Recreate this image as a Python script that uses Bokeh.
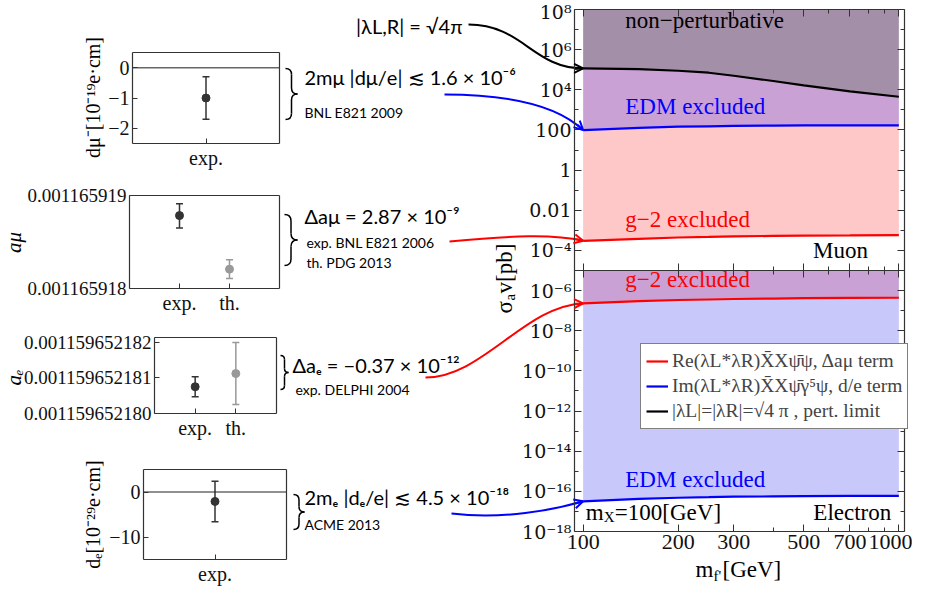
import math
from bokeh.plotting import figure
from bokeh.models import (Range1d, FixedTicker, LogAxis, LinearAxis, LogScale, LinearScale, Label, Arrow,
                          OpenHead, Whisker, TeeHead, ColumnDataSource, Legend, LegendItem,
                          PrintfTickFormatter)
from bokeh.embed import file_html
from bokeh.resources import INLINE

# ---------------- data ----------------
mf_gev = [100, 150, 200, 250, 300, 400, 500, 700, 1000]
muon_pert_limit = [1.17e5, 1.07e5, 8.9e4, 7.1e4, 5.0e4, 2.75e4, 1.66e4, 8.3e3, 4.5e3]
muon_edm_bound = [98, 126, 145, 152, 158, 166, 170, 170, 170]
muon_g2_bound = [3.0e-4, 3.8e-4, 4.4e-4, 4.7e-4, 5.0e-4, 5.3e-4, 5.5e-4, 5.6e-4, 5.8e-4]
el_g2_bound = [2.3e-7, 2.95e-7, 3.4e-7, 3.6e-7, 3.8e-7, 4.0e-7, 4.2e-7, 4.3e-7, 4.4e-7]
el_edm_bound = [3.2e-17, 4.2e-17, 4.8e-17, 5.1e-17, 5.4e-17, 5.6e-17, 5.75e-17, 5.9e-17, 6.0e-17]

x_major = [100, 200, 300, 500, 700, 1000]
x_major_labels = ["100", "200", "300", "500", "700", "1000"]
x_minor = [400, 600, 800, 900]
muon_y_major = [1e8, 1e6, 1e4, 1e2, 1, 1e-2, 1e-4]
muon_y_labels = ["10⁸", "10⁶", "10⁴", "100", "1", "0.01", "10⁻⁴"]
muon_y_minor = [1e7, 1e5, 1e3, 1e1, 1e-1, 1e-3, 1e-5]
el_y_major = [1e-6, 1e-8, 1e-10, 1e-12, 1e-14, 1e-16, 1e-18]
el_y_labels = ["10⁻⁶", "10⁻⁸", "10⁻¹⁰", "10⁻¹²", "10⁻¹⁴", "10⁻¹⁶", "10⁻¹⁸"]
el_y_minor = [1e-5, 1e-7, 1e-9, 1e-11, 1e-13, 1e-15, 1e-17]

dmu_cats = ["exp."]
dmu_val = [-1.0]
dmu_lo = [-1.7]
dmu_hi = [-0.3]
dmu_ticks = [0, -1, -2]
dmu_tick_labels = ["0", "−1", "−2"]

amu_cats = ["exp.", "th."]
amu_val = [0.001165918784, 0.001165918208]
amu_lo = [0.001165918650, 0.001165918108]
amu_hi = [0.001165918910, 0.001165918310]
amu_ticks = [0.001165918, 0.001165919]

ae_cats = ["exp.", "th."]
ae_val = [0.00115965218075, 0.00115965218112]
ae_lo = [0.00115965218047, 0.00115965218025]
ae_hi = [0.00115965218103, 0.00115965218199]
ae_ticks = [0.001159652180, 0.001159652181, 0.001159652182]

de_cats = ["exp."]
de_val = [-2.1]
de_lo = [-6.6]
de_hi = [2.4]
de_ticks = [0, -10]
de_tick_labels = ["0", "−10"]

SERIF = "Liberation Serif"
SUPSERIF = "DejaVu Serif"
SANS = "Lato"
PERT_FILL = "#A48FA8"
EDM_FILL = "#C9A1D5"
G2_FILL = "#FEC8C8"
E_FILL = "#C8C8FA"
EXP_COL = "#333333"
TH_COL = "#999999"
FRAME_COL = "#333333"

W, H = 912, 588
p = figure(width=W, height=H, x_range=Range1d(0, W), y_range=Range1d(H, 0), min_border=0,
           x_axis_location=None, y_axis_location=None, toolbar_location=None, tools="",
           output_backend="svg", background_fill_color="white", border_fill_color="white",
           outline_line_color=None)
p.grid.visible = False

# ---------------- panel geometry (pixel boxes: left, right, top, bottom) ----------------
panels = {
    "mu": dict(box=(574, 904, 9, 270), xlim=(93.9, 1042), ylim=(1e-5, 1e8), xlog=True, ylog=True),
    "el": dict(box=(574, 904, 270, 531), xlim=(93.9, 1042), ylim=(1e-18, 1e-5), xlog=True, ylog=True),
    "dmu": dict(box=(132, 279, 52, 143), xlim=(0, 2), ylim=(-2.5, 0.5), xlog=False, ylog=False),
    "amu": dict(box=(129, 279, 195, 288), xlim=(0, 3), ylim=(amu_ticks[0], amu_ticks[1]), xlog=False, ylog=False),
    "ae": dict(box=(154, 276, 337, 413), xlim=(0, 3), ylim=(0.00115965218, 0.00115965218213), xlog=False, ylog=False),
    "de": dict(box=(143, 286, 469, 559), xlim=(0, 2), ylim=(-15, 5), xlog=False, ylog=False),
}


def ext(v0, v1, p0, p1, P, log):
    if log:
        v0, v1 = math.log10(v0), math.log10(v1)
    k = (v1 - v0) / (p1 - p0)
    s, e = v0 - k * p0, v0 + k * (P - p0)
    return (10 ** s, 10 ** e) if log else (s, e)


def to_px(name, x, y):
    d = panels[name]
    l, r, t, b = d["box"]
    f = (lambda v: math.log10(v)) if d["xlog"] else (lambda v: v)
    g = (lambda v: math.log10(v)) if d["ylog"] else (lambda v: v)
    fx = (f(x) - f(d["xlim"][0])) / (f(d["xlim"][1]) - f(d["xlim"][0]))
    fy = (g(y) - g(d["ylim"][0])) / (g(d["ylim"][1]) - g(d["ylim"][0]))
    return l + fx * (r - l), b - fy * (b - t)


xr, yr, xsc, ysc = {}, {}, {}, {}
for name, d in panels.items():
    l, r, t, b = d["box"]
    xr[name + "_x"] = Range1d(*ext(d["xlim"][0], d["xlim"][1], l, r, W, d["xlog"]))
    yr[name + "_y"] = Range1d(*ext(d["ylim"][0], d["ylim"][1], H - b, H - t, H, d["ylog"]))
    xsc[name + "_x"] = LogScale() if d["xlog"] else LinearScale()
    ysc[name + "_y"] = LogScale() if d["ylog"] else LinearScale()
p.extra_x_ranges = xr
p.extra_y_ranges = yr
p.extra_x_scales = xsc
p.extra_y_scales = ysc


def style_axis(ax, ticks, minor, labels, size, tick_in, formatter=None, font=SERIF):
    ax.ticker = FixedTicker(ticks=ticks, minor_ticks=minor)
    ax.major_tick_in = tick_in
    ax.major_tick_out = 0
    ax.minor_tick_in = 4
    ax.minor_tick_out = 0
    ax.axis_line_color = FRAME_COL
    ax.axis_line_width = 1.2
    ax.major_tick_line_color = FRAME_COL
    ax.minor_tick_line_color = FRAME_COL
    ax.major_label_text_font = font
    ax.major_label_text_font_size = size
    ax.major_label_text_color = "#111111"
    ax.major_label_standoff = 3
    if formatter is not None:
        ax.formatter = formatter
    elif labels is not None:
        ax.major_label_overrides = dict(zip(ticks, labels))
    else:
        ax.major_label_overrides = {t_: "" for t_ in ticks}


def frame_axes(name, xt, xminor, xlabels, yt, yminor, ylabels, xsize, ysize, tick_in,
               yfmt=None, mirror=True, yfont=SERIF):
    d = panels[name]
    l, r, t, b = d["box"]
    AX = LogAxis if d["xlog"] else LinearAxis
    AY = LogAxis if d["ylog"] else LinearAxis
    ax = AY(y_range_name=name + "_y", fixed_location=l, bounds=d["ylim"])
    style_axis(ax, yt, yminor, ylabels, ysize, tick_in, yfmt, font=yfont)
    p.add_layout(ax, "left")
    ax = AX(x_range_name=name + "_x", fixed_location=b, bounds=d["xlim"])
    style_axis(ax, xt, xminor, xlabels, xsize, tick_in)
    p.add_layout(ax, "below")
    ax = AY(y_range_name=name + "_y", fixed_location=r, bounds=d["ylim"])
    style_axis(ax, yt if mirror else [], yminor if mirror else [], None, ysize, tick_in)
    p.add_layout(ax, "right")
    ax = AX(x_range_name=name + "_x", fixed_location=t, bounds=d["xlim"])
    style_axis(ax, xt if mirror else [], xminor if mirror else [], None, xsize, tick_in)
    p.add_layout(ax, "above")


def R(name):
    return dict(x_range_name=name + "_x", y_range_name=name + "_y")


def in_label(name, text, x, y, color, size="23px", xo=0, yo=0):
    p.add_layout(Label(x=x, y=y, x_offset=xo, y_offset=yo, text=text, text_font=SERIF,
                       text_font_size=size, text_color=color, text_baseline="middle",
                       text_align="left", **R(name)))


# ---------------- muon panel ----------------
n = len(mf_gev)
p.varea(x=mf_gev, y1=muon_pert_limit, y2=[panels["mu"]["ylim"][1]] * n, fill_color=PERT_FILL, **R("mu"))
p.varea(x=mf_gev, y1=muon_edm_bound, y2=muon_pert_limit, fill_color=EDM_FILL, **R("mu"))
p.varea(x=mf_gev, y1=muon_g2_bound, y2=muon_edm_bound, fill_color=G2_FILL, **R("mu"))
r_black = p.line(mf_gev, muon_pert_limit, line_color="black", line_width=2.2, **R("mu"))
p.line(mf_gev, muon_edm_bound, line_color="blue", line_width=2.2, **R("mu"))
p.line(mf_gev, muon_g2_bound, line_color="red", line_width=2.2, **R("mu"))
in_label("mu", "non−perturbative", 136, 2.7e7, "black")
in_label("mu", "EDM excluded", 136, 1.4e3, "blue")
in_label("mu", "g−2 excluded", 136, 3.4e-3, "red")
in_label("mu", "Muon", 535, 1e-4, "black")
frame_axes("mu", x_major, x_minor, None, muon_y_major, muon_y_minor, muon_y_labels,
           "22px", "19px", 7, yfont=SUPSERIF)

# ---------------- electron panel ----------------
p.varea(x=mf_gev, y1=el_g2_bound, y2=[panels["el"]["ylim"][1]] * n, fill_color=EDM_FILL, **R("el"))
p.varea(x=mf_gev, y1=el_edm_bound, y2=el_g2_bound, fill_color=E_FILL, **R("el"))
r_red = p.line(mf_gev, el_g2_bound, line_color="red", line_width=2.2, **R("el"))
r_blue = p.line(mf_gev, el_edm_bound, line_color="blue", line_width=2.2, **R("el"))
in_label("el", "g−2 excluded", 136, 3.6e-6, "red")
in_label("el", "EDM excluded", 136, 4e-16, "blue")
in_label("el", "m", 102, 9.1e-18, "black")
in_label("el", "X", 102, 9.1e-18, "black", size="15px", xo=18, yo=-5)
in_label("el", "=100[GeV]", 102, 9.1e-18, "black", xo=29)
in_label("el", "Electron", 536, 9.1e-18, "black")
frame_axes("el", x_major, x_minor, x_major_labels, el_y_major, el_y_minor, el_y_labels,
           "22px", "19px", 7, yfont=SUPSERIF)

legend = Legend(items=[
    LegendItem(label="Re(λL*λR)X̄Xψ̄ψ, Δaμ term", renderers=[r_red]),
    LegendItem(label="Im(λL*λR)X̄Xψ̄γ⁵ψ, d/e term", renderers=[r_blue]),
    LegendItem(label="|λL|=|λR|=√4 π , pert. limit", renderers=[r_black]),
], location=(640, 159), label_text_font=SERIF, label_text_font_size="19.5px",
    glyph_width=22, glyph_height=14, label_standoff=4, spacing=1, padding=5, margin=0,
    border_line_color="black", border_line_width=1.5, background_fill_color="white",
    background_fill_alpha=1.0, label_height=24)
p.add_layout(legend)


# ---------------- small left panels ----------------
def points(name, cats, vals, los, his, cols):
    pos = [i + 1 for i in range(len(cats))]
    for x, v, lo, hi, c in zip(pos, vals, los, his, cols):
        src = ColumnDataSource(dict(x=[x], v=[v], lo=[lo], hi=[hi]))
        p.add_layout(Whisker(source=src, base="x", lower="lo", upper="hi", dimension="height",
                             line_color=c, line_width=1.5,
                             lower_head=TeeHead(size=7, line_color=c, line_width=1.5),
                             upper_head=TeeHead(size=7, line_color=c, line_width=1.5), **R(name)))
        p.scatter("x", "v", source=src, size=8, fill_color=c, line_color=c, **R(name))
    return pos


def zero_line(name, color, width):
    xl = panels[name]["xlim"]
    p.segment(x0=[xl[0]], y0=[0], x1=[xl[1]], y1=[0], line_color=color, line_width=width, **R(name))


zero_line("dmu", "#666666", 1.5)
pos = points("dmu", dmu_cats, dmu_val, dmu_lo, dmu_hi, [EXP_COL])
frame_axes("dmu", pos, [], dmu_cats, dmu_ticks, [], dmu_tick_labels, "20px", "20px", 5, mirror=False)

pos = points("amu", amu_cats, amu_val, amu_lo, amu_hi, [EXP_COL, TH_COL])
frame_axes("amu", pos, [], amu_cats, amu_ticks, [], None, "20px", "19px", 5,
           yfmt=PrintfTickFormatter(format="%.9f"), mirror=False)

pos = points("ae", ae_cats, ae_val, ae_lo, ae_hi, [EXP_COL, TH_COL])
frame_axes("ae", pos, [], ae_cats, ae_ticks, [], None, "20px", "19px", 5,
           yfmt=PrintfTickFormatter(format="%.12f"), mirror=False)

zero_line("de", "#222222", 1.2)
pos = points("de", de_cats, de_val, de_lo, de_hi, [EXP_COL])
frame_axes("de", pos, [], de_cats, de_ticks, [], de_tick_labels, "20px", "20px", 5, mirror=False)


# ---------------- annotations (pixel coordinates) ----------------
def ol(text, x, y, size, font=SANS, align="left", baseline="middle", angle=0.0, color="black", style="normal"):
    p.add_layout(Label(x=x, y=y, text=text, text_font=font, text_font_size=size, text_color=color,
                       text_align=align, text_baseline=baseline, angle=angle, text_font_style=style))


def brace(x0, yt, yb, w):
    xm = x0 + w / 2.0
    ym = (yt + yb) / 2.0
    r = min(w / 2.0, (yb - yt) / 4.0)
    p.quadratic(x0=[x0, xm, x0 + w, xm], y0=[yt, ym - r, ym, yb - r],
                x1=[xm, x0 + w, xm, x0], y1=[yt + r, ym, ym + r, yb],
                cx=[xm, xm, xm, xm], cy=[yt, ym, ym, yb], line_color="black", line_width=1.5)
    p.segment(x0=[xm, xm], y0=[yt + r, ym + r], x1=[xm, xm], y1=[ym - r, yb - r],
              line_color="black", line_width=1.5)


def curved_arrow(s, c0, c1, e, color):
    p.bezier(x0=[s[0]], y0=[s[1]], cx0=[c0[0]], cy0=[c0[1]], cx1=[c1[0]], cy1=[c1[1]],
             x1=[e[0]], y1=[e[1]], line_color=color, line_width=2)
    dx, dy = e[0] - c1[0], e[1] - c1[1]
    L = (dx * dx + dy * dy) ** 0.5
    p.add_layout(Arrow(x_start=e[0] - 8 * dx / L, y_start=e[1] - 8 * dy / L, x_end=e[0], y_end=e[1],
                       line_color=color, line_width=2,
                       end=OpenHead(size=9, line_color=color, line_width=2)))


# y titles of the small panels
ol("dμ⁻[10⁻¹⁹e·cm]", 92, 97, "20px", font=SERIF, align="center", angle=math.pi / 2)
ol("aμ", 13, 242, "21px", font=SERIF, align="center", angle=math.pi / 2, style="italic")
ol("aₑ", 13, 377, "21px", font=SERIF, align="center", angle=math.pi / 2, style="italic")
ol("dₑ[10⁻²⁹e·cm]", 92, 514, "20px", font=SERIF, align="center", angle=math.pi / 2)

# texts
ol("|λL,R| = √4π", 462, 25, "20px", align="right")
ol("2mμ |dμ/e| ≲ 1.6 × 10⁻⁶", 304, 76, "20px")
ol("BNL E821 2009", 304, 112, "14px")
ol("Δaμ = 2.87 × 10⁻⁹", 304, 215, "20px")
ol("exp. BNL E821 2006", 306, 242, "14px")
ol("th. PDG 2013", 306, 262, "14px")
ol("Δaₑ = −0.37 × 10⁻¹²", 292, 364, "20px")
ol("exp. DELPHI 2004", 295, 389, "14px")
ol("2mₑ |dₑ/e| ≲ 4.5 × 10⁻¹⁸", 304, 496, "20px")
ol("ACME 2013", 304, 524, "14px")

# braces
brace(285, 68, 119, 12)
brace(284, 214, 265, 13)
brace(280, 355, 389, 8)
brace(293, 494, 529, 11)

# arrows: each ends on the first point of the curve it points to
tb = to_px("mu", mf_gev[0], muon_pert_limit[0])
curved_arrow((468, 24), (522, 24), (tb[0] - 50, tb[1]), tb, "black")
tb = to_px("mu", mf_gev[0], muon_edm_bound[0])
curved_arrow((444, 94), (512, 94), (tb[0] - 25, tb[1] - 24), tb, "blue")
tb = to_px("mu", mf_gev[0], muon_g2_bound[0])
curved_arrow((449, 241), (512, 235), (tb[0] - 30, tb[1] - 7), tb, "red")
tb = to_px("el", mf_gev[0], el_g2_bound[0])
curved_arrow((425, 377), (482, 377), (tb[0] - 58, tb[1] + 2), tb, "red")
tb = to_px("el", mf_gev[0], el_edm_bound[0])
curved_arrow((451, 513), (502, 519), (tb[0] - 30, tb[1] + 9), tb, "blue")

# axis titles of the right panels
yj = panels["mu"]["box"][3]
ol("σ", 504, yj + 43, "23px", font=SERIF, angle=math.pi / 2)
ol("a", 509, yj + 30, "15px", font=SERIF, angle=math.pi / 2)
ol("v[pb]", 504, yj + 23, "23px", font=SERIF, angle=math.pi / 2)
ol("m", 695, 569, "23px", font=SERIF)
ol("f'", 713, 575, "15px", font=SERIF)
ol("[GeV]", 722, 569, "23px", font=SERIF)

open("out.html", "w").write(file_html(p, INLINE))
